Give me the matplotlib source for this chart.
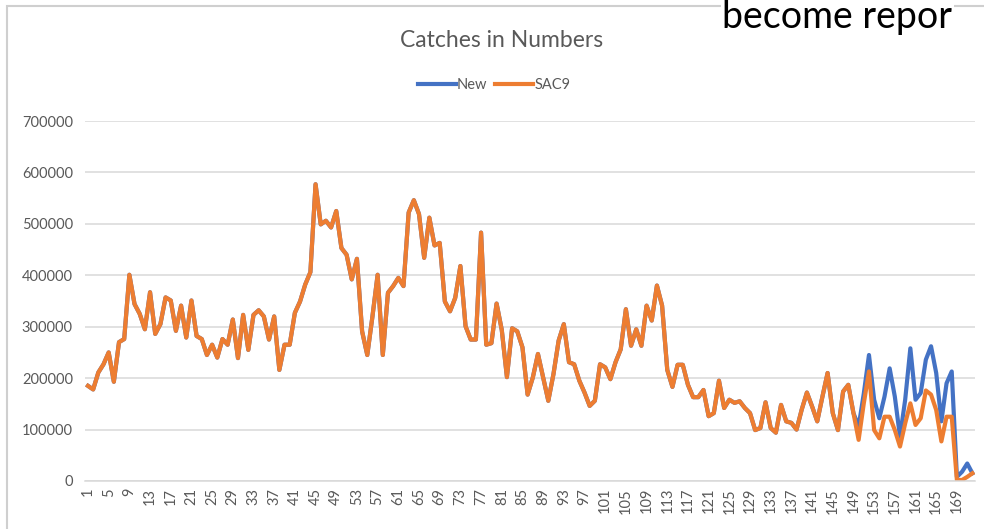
import numpy as np
import matplotlib.pyplot as plt
from matplotlib.patches import Rectangle

plt.rcParams['font.family'] = ['Lato', 'DejaVu Sans']

# SAC9 catches per period (1..172)
sac9 = [
    185000, 178000, 211000, 227000, 250000, 193000, 270000, 276000, 401000, 344000,
    325000, 295000, 367000, 286000, 305000, 357000, 351000, 292000, 341000, 279000,
    351000, 282000, 276000, 245000, 265000, 240000, 276000, 265000, 314000, 239000,
    323000, 255000, 323000, 332000, 320000, 275000, 320000, 216000, 265000, 265000,
    327000, 349000, 382000, 406000, 577000, 499000, 506000, 493000, 525000, 453000,
    440000, 392000, 432000, 291000, 245000, 320000, 401000, 245000, 366000, 379000,
    395000, 379000, 522000, 546000, 519000, 434000, 512000, 458000, 463000, 349000,
    330000, 356000, 418000, 301000, 275000, 275000, 483000, 265000, 268000, 345000,
    294000, 202000, 297000, 291000, 260000, 168000, 201000, 247000, 201000, 156000,
    208000, 273000, 305000, 231000, 227000, 195000, 172000, 146000, 156000, 227000,
    221000, 198000, 231000, 256000, 334000, 263000, 295000, 263000, 341000, 312000,
    380000, 341000, 216000, 183000, 226000, 226000, 187000, 163000, 163000, 177000,
    126000, 132000, 195000, 142000, 158000, 152000, 155000, 142000, 132000, 99000,
    103000, 153000, 103000, 94000, 148000, 116000, 113000, 100000, 139000, 172000,
    145000, 116000, 164000, 210000, 132000, 99000, 174000, 187000, 132000, 80000,
    151000, 213000, 99000, 83000, 125000, 125000, 99000, 67000, 112000, 151000,
    109000, 122000, 176000, 168000, 138000, 77000, 125000, 125000, 2000, 2000,
    8000, 15000,
]

# New series: same as SAC9 up to period 149, revised from 150 onwards
new_tail = [
    106000, 170000, 245000, 158000, 122000, 164000, 219000, 164000, 86000, 158000,
    258000, 158000, 171000, 236000, 262000, 210000, 116000, 190000, 213000, 8000,
    18000, 34000, 15000,
]
new = sac9[:149] + new_tail

periods = np.arange(1, len(sac9) + 1)
tick_periods = periods[::4]
y_ticks = np.arange(0, 700001, 100000)

text_grey = "#595959"

fig = plt.figure(figsize=(9.84, 5.29), dpi=100)

# chart frame
fig.patches.append(Rectangle((7 / 984, -0.1), 1.2, 1 - 6 / 529 + 0.1,
                             transform=fig.transFigure, fill=False,
                             edgecolor="#CFCFCF", linewidth=1.5))

ax = fig.add_axes([85.4 / 984, 1 - 481 / 529, (975 - 85.4) / 984, (481 - 121) / 529])
ax.plot(periods, new, color="#4472C4", linewidth=3.0, label="New",
        solid_joinstyle="round")
ax.plot(periods, sac9, color="#ED7D31", linewidth=3.0, label="SAC9",
        solid_joinstyle="round")

ax.set_xlim(0.5, len(sac9) + 0.5)
ax.set_ylim(0, 700000)
ax.set_yticks(y_ticks)
ax.set_yticklabels([str(v) for v in y_ticks], fontsize=10.5, color=text_grey)
ax.set_xticks(tick_periods)
ax.set_xticklabels([str(p) for p in tick_periods], rotation=90,
                   fontsize=10.5, color=text_grey)
ax.tick_params(length=0, pad=9)
ax.tick_params(axis="x", pad=5)
ax.grid(axis="y", color="#D9D9D9", linewidth=1.1)
ax.set_axisbelow(True)
for side in ["top", "right", "left"]:
    ax.spines[side].set_visible(False)
ax.spines["bottom"].set_color("#D9D9D9")
ax.spines["bottom"].set_linewidth(1.1)

fig.text(502 / 984, 1 - 40 / 529, "Catches in Numbers", ha="center", va="center",
         fontsize=16.5, color=text_grey)
fig.legend(loc="center", bbox_to_anchor=(494 / 984, 1 - 85 / 529), ncol=2,
           frameon=False, fontsize=10.5, labelcolor=text_grey, handlelength=2.6,
           handletextpad=0.1, columnspacing=0.5)

# slide text overlapping the top edge
fig.text(722 / 984, 1 - 28 / 529, "become repor", ha="left", va="baseline",
         fontsize=27, color="black",
         bbox=dict(facecolor="white", edgecolor="none", pad=1))

fig.savefig("out.png", dpi=100)
